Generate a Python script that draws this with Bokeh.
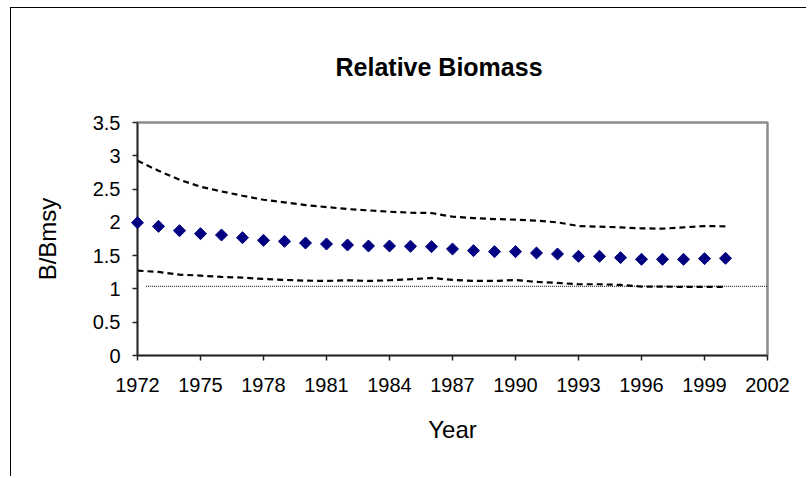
import numpy as np
from bokeh.plotting import figure
from bokeh.models import (FixedTicker, PrintfTickFormatter,
                          ColumnDataSource, Range1d)
from bokeh.embed import file_html
from bokeh.resources import INLINE

# ---- data ----
years = list(range(1972, 2001))
biomass = [1.995, 1.94, 1.875, 1.83, 1.81, 1.77, 1.73, 1.715, 1.69, 1.675,
           1.66, 1.645, 1.645, 1.64, 1.635, 1.60, 1.575, 1.56, 1.56, 1.54,
           1.525, 1.49, 1.49, 1.47, 1.445, 1.445, 1.445, 1.455, 1.46]
upper = [2.925, 2.775, 2.64, 2.535, 2.465, 2.40, 2.34, 2.30, 2.26, 2.23,
         2.20, 2.18, 2.16, 2.145, 2.14, 2.085, 2.065, 2.05, 2.04, 2.025,
         2.00, 1.945, 1.935, 1.925, 1.91, 1.905, 1.925, 1.945, 1.94]
lower = [1.275, 1.255, 1.215, 1.20, 1.18, 1.17, 1.15, 1.135, 1.125, 1.12,
         1.13, 1.12, 1.13, 1.145, 1.165, 1.135, 1.12, 1.12, 1.135, 1.105,
         1.09, 1.07, 1.07, 1.06, 1.035, 1.035, 1.03, 1.03, 1.03]
ref_years = [1972.4, 2002]
ref_level = [1.04, 1.04]
x_ticks = list(range(1972, 2003, 3))
y_ticks = [0, 0.5, 1, 1.5, 2, 2.5, 3, 3.5]

title_text = "Relative Biomass"
x_label = "Year"
y_label = "B/Bmsy"

FONT = "Liberation Sans"

p = figure(width=796, height=469, output_backend="svg", toolbar_location=None,
           x_range=Range1d(1972, 2002), y_range=Range1d(0, 3.5),
           min_border_left=126, min_border_right=40,
           min_border_top=114, min_border_bottom=122,
           background_fill_color="white", border_fill_color="white")

# outer chart-area frame: left and top edges of the host element
p.styles = {"margin-left": "10px", "margin-top": "7px",
            "border-left": "1.5px solid black", "border-top": "1.5px solid black"}

# title
p.title.text = title_text
p.title.text_font = FONT
p.title.text_font_style = "bold"
p.title.text_font_size = "25px"
p.title.align = "left"
p.title.offset = 198
p.title.standoff = 83
p.title.text_color = "black"

# plot-area border (grey top/right)
p.outline_line_color = "#8c8c8c"
p.outline_line_width = 2.5

p.xgrid.visible = False
p.ygrid.visible = False

for ax in (p.xaxis[0], p.yaxis[0]):
    ax.axis_line_color = "#222222"
    ax.axis_line_width = 1.5
    ax.major_tick_line_color = "#222222"
    ax.major_tick_line_width = 1.5
    ax.major_tick_out = 5
    ax.major_tick_in = 0
    ax.minor_tick_line_color = None
    ax.major_label_text_font = FONT
    ax.major_label_text_font_size = "20px"
    ax.major_label_text_color = "black"
    ax.axis_label_text_font = FONT
    ax.axis_label_text_font_size = "24px"
    ax.axis_label_text_font_style = "normal"
    ax.axis_label_text_color = "black"

p.xaxis.ticker = FixedTicker(ticks=x_ticks)
p.yaxis.ticker = FixedTicker(ticks=y_ticks)
p.yaxis.formatter = PrintfTickFormatter(format="%g")
p.xaxis.formatter = PrintfTickFormatter(format="%d")
p.xaxis.axis_label = x_label
p.yaxis.axis_label = y_label
p.xaxis.major_label_standoff = 17
p.yaxis.major_label_standoff = 12
p.xaxis.axis_label_standoff = 21
p.yaxis.axis_label_standoff = 29

src = ColumnDataSource(dict(year=years, biomass=biomass, upper=upper, lower=lower))

p.line(ref_years, ref_level, line_color="black", line_width=1, line_dash="1 1")
p.line("year", "upper", source=src, line_color="black", line_width=2.2, line_dash="6 4")
p.line("year", "lower", source=src, line_color="black", line_width=2.2, line_dash="6 4")
r = p.scatter("year", "biomass", source=src, marker="square", angle=np.pi / 4,
              size=8.5, fill_color="#000080", line_color="#000080", line_width=1)
r.level = "overlay"

open("out.html", "w").write(file_html(p, INLINE))
